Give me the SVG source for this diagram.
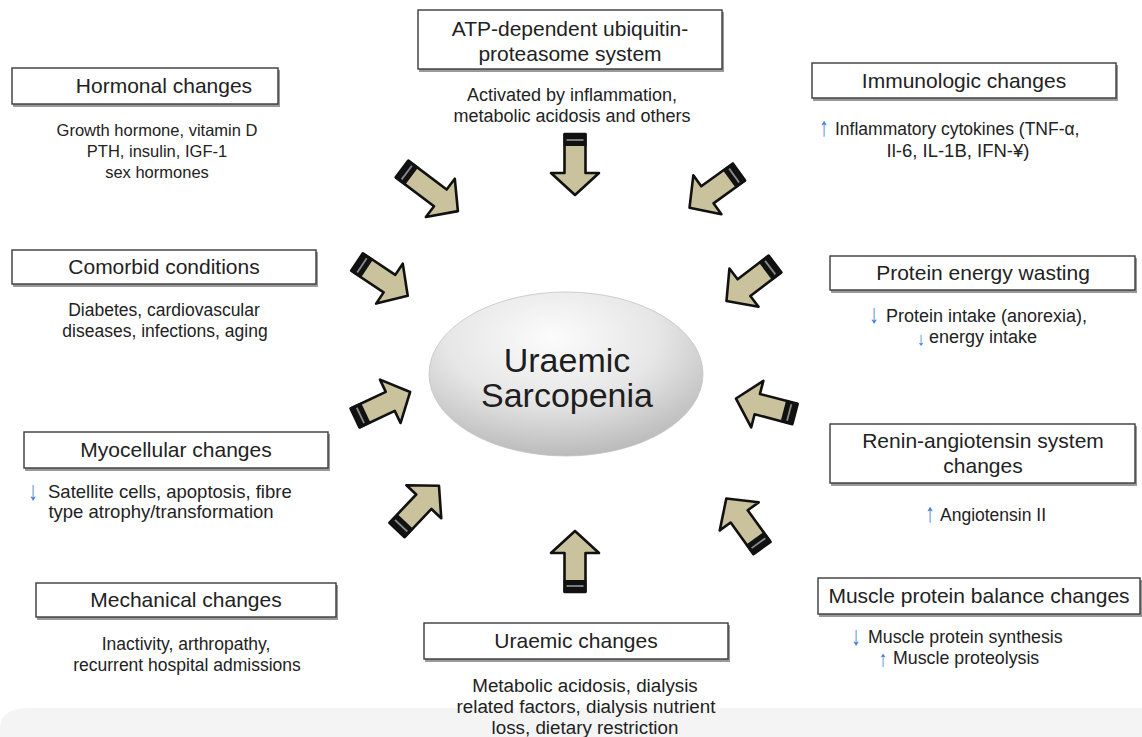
<svg xmlns="http://www.w3.org/2000/svg" xmlns:xlink="http://www.w3.org/1999/xlink" width="1142" height="737" viewBox="0 0 1142 737">
<style>
text{font-family:"Liberation Sans",Arial,Helvetica,sans-serif;fill:#222}
.t{font-size:21px;text-anchor:middle}
.d{font-size:17.5px;text-anchor:middle}
.ds{font-size:17.5px}
.ar{font-size:19px;text-anchor:middle;fill:#3a78d4}
.box{fill:#fff;stroke:#3a3a3a;stroke-width:1.4}
.sh{fill:#9a9a9a}
.big{font-size:34px;text-anchor:middle;fill:#1e1e1e}
</style>
<defs>
<radialGradient id="eg" cx="0.45" cy="0.28" r="0.78">
<stop offset="0" stop-color="#fcfcfc"/>
<stop offset="0.5" stop-color="#e6e6e6"/>
<stop offset="1" stop-color="#b3b3b3"/>
</radialGradient>
<g id="arw">
<path d="M0,-10.5 H39 V-24 L61,0 L39,24 V10.5 H0 Z" fill="#c9c29c" stroke="#111" stroke-width="2.6" stroke-linejoin="round"/>
<rect x="0" y="-11.5" width="12" height="23" fill="#111"/>
<line x1="6" y1="-8.5" x2="6" y2="8.5" stroke="#8a8a8a" stroke-width="1.8"/>
</g>
<g id="arwL">
<path d="M0,-10.5 H48 V-24 L70,0 L48,24 V10.5 H0 Z" fill="#c9c29c" stroke="#111" stroke-width="2.6" stroke-linejoin="round"/>
<rect x="0" y="-11.5" width="12" height="23" fill="#111"/>
<line x1="6" y1="-8.5" x2="6" y2="8.5" stroke="#8a8a8a" stroke-width="1.8"/>
</g>
</defs>
<rect width="1142" height="737" fill="#fff"/>
<path d="M0,737 V728 Q0,708 30,708 H1142 V737 Z" fill="#f4f4f4"/>

<g id="center">
<ellipse cx="566" cy="374" rx="137" ry="82" fill="url(#eg)" stroke="#c4c4c4" stroke-width="0.8"/>
<text class="big" x="567" y="372">Uraemic</text>
<text class="big" x="567" y="407">Sarcopenia</text>
</g>

<g id="connectors">
<use xlink:href="#arw" transform="translate(575,134) rotate(90)"/>
<use xlink:href="#arwL" transform="translate(402,169) rotate(37)"/>
<use xlink:href="#arw" transform="translate(739,172) rotate(144.2)"/>
<use xlink:href="#arw" transform="translate(357,262) rotate(33.7)"/>
<use xlink:href="#arw" transform="translate(775,264) rotate(142.7)"/>
<use xlink:href="#arw" transform="translate(355,418) rotate(-25.3)"/>
<use xlink:href="#arw" transform="translate(795,414) rotate(194.7)"/>
<use xlink:href="#arw" transform="translate(397,530) rotate(-46.5)"/>
<use xlink:href="#arw" transform="translate(575,592) rotate(-90)"/>
<use xlink:href="#arw" transform="translate(762,548) rotate(-125.8)"/>
</g>

<g id="atp">
<rect class="sh" x="419" y="12" width="305" height="60"/>
<rect class="box" x="418" y="10" width="304" height="59"/>
<text class="t" x="570" y="36">ATP-dependent ubiquitin-</text>
<text class="t" x="570" y="61">proteasome system</text>
<text class="d" x="572" y="101" style="font-size:18px">Activated by inflammation,</text>
<text class="d" x="572" y="122" style="font-size:18px">metabolic acidosis and others</text>
</g>

<g id="hormonal">
<rect class="sh" x="13" y="70" width="267" height="37"/>
<rect class="box" x="12" y="68" width="266" height="36"/>
<text class="t" x="164" y="93">Hormonal changes</text>
<text class="d" x="157" y="136" style="font-size:16.5px">Growth hormone, vitamin D</text>
<text class="d" x="157" y="157" style="font-size:16.5px">PTH, insulin, IGF-1</text>
<text class="d" x="157" y="178" style="font-size:16.5px">sex hormones</text>
</g>

<g id="immunologic">
<rect class="sh" x="813" y="65" width="305" height="36"/>
<rect class="box" x="812" y="63" width="304" height="35"/>
<text class="t" x="964" y="88">Immunologic changes</text>
<text class="ar" transform="translate(824,136) scale(1,1.4)">↑</text>
<text class="ds" x="835" y="135">Inflammatory cytokines (TNF-α,</text>
<text class="d" x="958" y="157" style="font-size:18.5px">Il-6, IL-1B, IFN-¥)</text>
</g>

<g id="comorbid">
<rect class="sh" x="13" y="252" width="305" height="35"/>
<rect class="box" x="12" y="250" width="304" height="34"/>
<text class="t" x="164" y="274">Comorbid conditions</text>
<text class="d" x="164" y="316">Diabetes, cardiovascular</text>
<text class="d" x="165" y="337">diseases, infections, aging</text>
</g>

<g id="pew">
<rect class="sh" x="831" y="258" width="306" height="35"/>
<rect class="box" x="830" y="256" width="305" height="34"/>
<text class="t" x="983" y="280">Protein energy wasting</text>
<text class="ar" transform="translate(874,323) scale(1,1.4)">↓</text>
<text class="ds" x="886" y="322" style="font-size:18px">Protein intake (anorexia),</text>
<text class="ar" transform="translate(921,345) scale(1,1.1)" style="font-size:17px">↓</text>
<text class="ds" x="929" y="343" style="font-size:18px">energy intake</text>
</g>

<g id="myocellular">
<rect class="sh" x="25" y="434" width="305" height="37"/>
<rect class="box" x="24" y="432" width="304" height="36"/>
<text class="t" x="176" y="457">Myocellular changes</text>
<text class="ar" transform="translate(33,500) scale(1,1.4)">↓</text>
<text class="ds" x="48" y="498" style="font-size:18.5px">Satellite cells, apoptosis, fibre</text>
<text class="d" x="161" y="518" style="font-size:18.5px">type atrophy/transformation</text>
</g>

<g id="renin">
<rect class="sh" x="831" y="426" width="306" height="60"/>
<rect class="box" x="830" y="424" width="305" height="59"/>
<text class="t" x="983" y="448">Renin-angiotensin system</text>
<text class="t" x="983" y="473">changes</text>
<text class="ar" transform="translate(930,522) scale(1,1.4)">↑</text>
<text class="ds" x="940" y="521">Angiotensin II</text>
</g>

<g id="mechanical">
<rect class="sh" x="37" y="585" width="301" height="35"/>
<rect class="box" x="36" y="583" width="300" height="34"/>
<text class="t" x="186" y="607">Mechanical changes</text>
<text class="d" x="186" y="650">Inactivity, arthropathy,</text>
<text class="d" x="187" y="671">recurrent hospital admissions</text>
</g>

<g id="uraemic">
<rect class="sh" x="425" y="625" width="305" height="37"/>
<rect class="box" x="424" y="623" width="304" height="36"/>
<text class="t" x="576" y="648">Uraemic changes</text>
<text class="d" x="585" y="692" style="font-size:18.8px">Metabolic acidosis, dialysis</text>
<text class="d" x="586" y="713" style="font-size:18.8px">related factors, dialysis nutrient</text>
<text class="d" x="585" y="734" style="font-size:18.8px">loss, dietary restriction</text>
</g>

<g id="muscle">
<rect class="sh" x="819" y="580" width="323" height="37"/>
<rect class="box" x="818" y="578" width="322" height="36"/>
<text class="t" x="979" y="603">Muscle protein balance changes</text>
<text class="ar" transform="translate(856,645) scale(1,1.4)">↓</text>
<text class="ds" x="868" y="643" style="font-size:17.8px">Muscle protein synthesis</text>
<text class="ar" transform="translate(883,666) scale(1,1.3)" style="font-size:17px">↑</text>
<text class="ds" x="893" y="664" style="font-size:17.8px">Muscle proteolysis</text>
</g>
</svg>
